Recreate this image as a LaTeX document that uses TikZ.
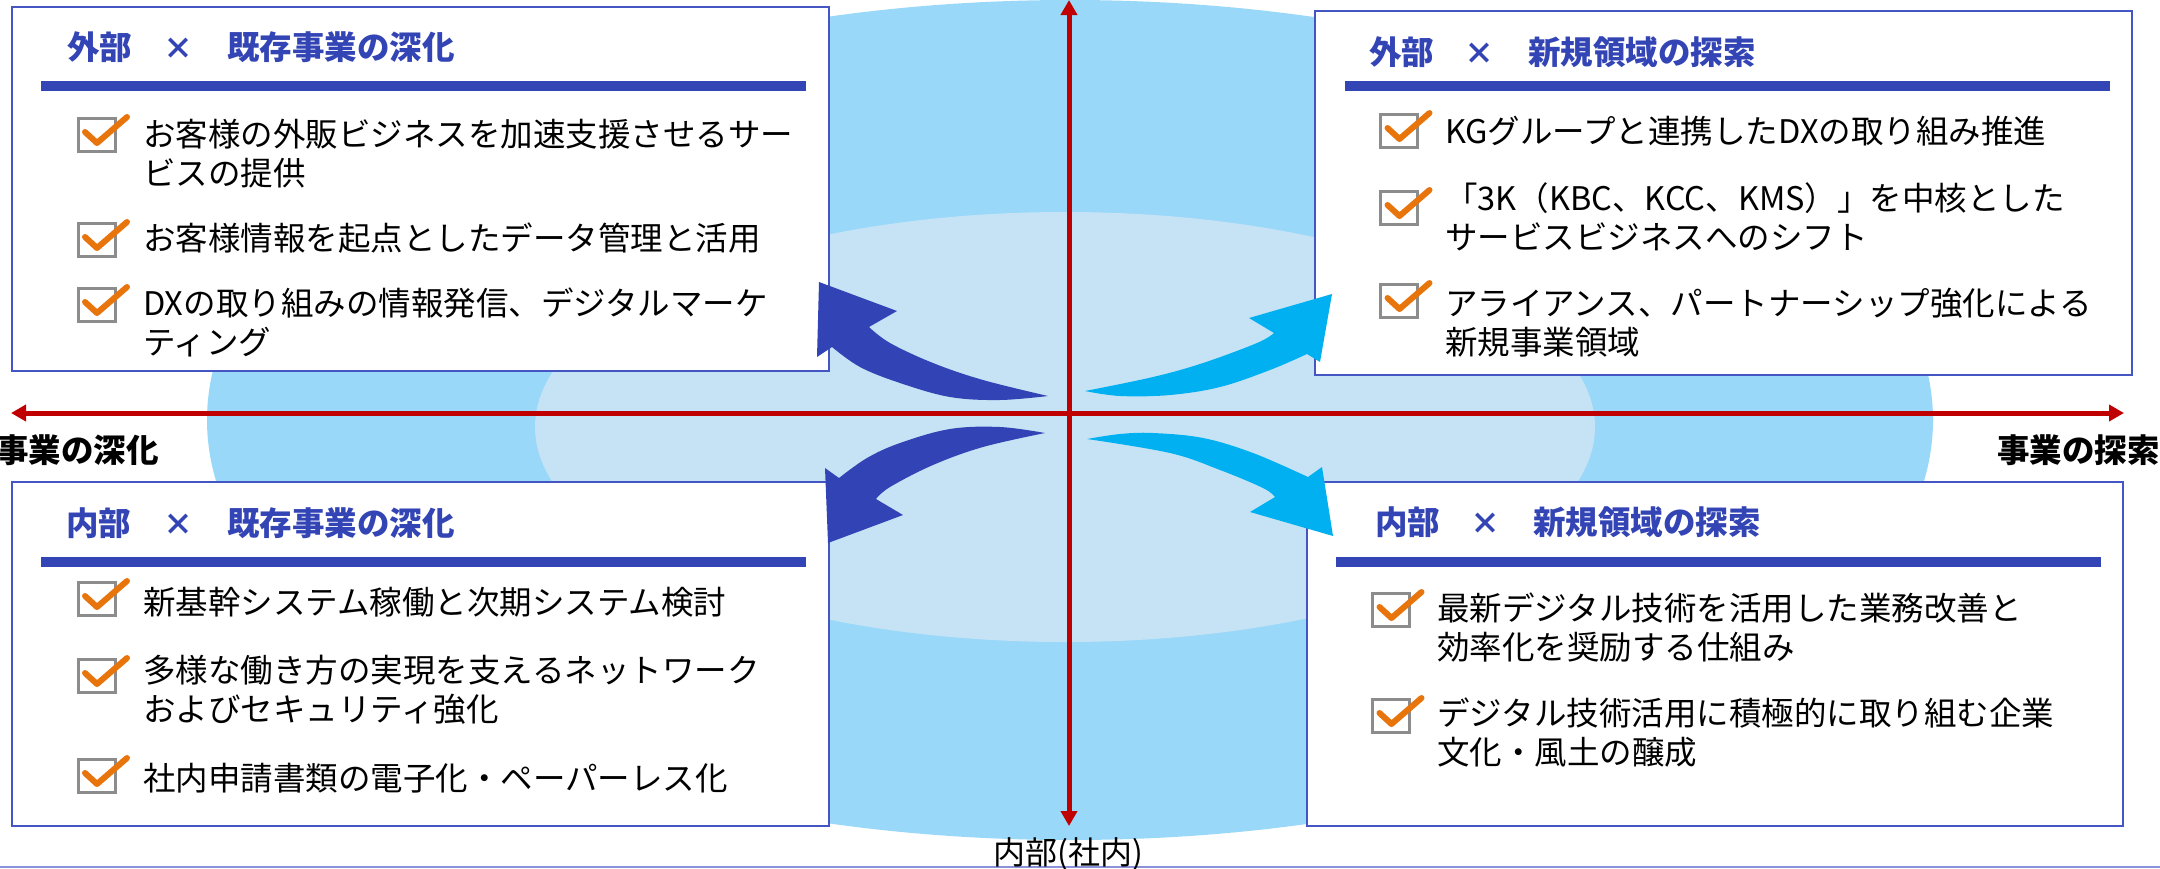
\documentclass[tikz,border=0pt]{standalone}
\usepackage{fontspec}
\setmainfont{Noto Sans CJK JP}
\usetikzlibrary{arrows.meta}
\definecolor{outerblue}{HTML}{99D8F9}
\definecolor{innerblue}{HTML}{C6E3F6}
\definecolor{axisred}{HTML}{C00000}
\definecolor{titleblue}{HTML}{3344B5}
\definecolor{boxblue}{HTML}{4455C4}
\definecolor{darkarrow}{HTML}{3244B5}
\definecolor{lightarrow}{HTML}{00B0F0}
\definecolor{chkorange}{HTML}{E8740C}
\definecolor{chkgray}{HTML}{8C8C8C}
\definecolor{frameline}{HTML}{8A93DA}
\tikzset{
  qbox/.style={draw=boxblue, line width=1.5pt, fill=white, inner sep=0pt},
  ttl/.style={anchor=base west, inner sep=0pt, text=titleblue, font=\fontsize{32.5}{39}\selectfont\bfseries},
  ttlx/.style={anchor=base, inner sep=0pt, text=titleblue, font=\fontsize{30}{39}\selectfont\bfseries},
  itm/.style={anchor=base west, inner sep=0pt, align=left, text width=720pt, font=\fontsize{32.5}{39.5}\selectfont},
  sidelbl/.style={anchor=base west, inner sep=0pt, font=\fontsize{32.5}{39}\selectfont\bfseries},
  botlbl/.style={anchor=base, inner sep=0pt, font=\fontsize{32}{39}\selectfont},
  redaxis/.style={axisred, line width=5pt, {Triangle[length=15pt,width=16pt]}-{Triangle[length=15pt,width=16pt]}},
  bar/.style={fill=titleblue},
  chkbox/.pic={
    \draw[chkgray, line width=3pt] (-18.5,-16.5) rectangle (18.5,16.5);
    \draw[chkorange, line width=6pt, line cap=round, line join=round] (-11.5,-3) -- (0.5,8) -- (30.5,-18);
  }
}
\begin{document}
\begin{tikzpicture}[x=1pt,y=-1pt]
\useasboundingbox (0,0) rectangle (2160,868);
% background
\fill[outerblue] (1070,420) ellipse [x radius=863pt, y radius=420pt];
\fill[innerblue] (1065,427) ellipse [x radius=530pt, y radius=215pt];
\draw[frameline, line width=2pt] (0,867) -- (2160,867);
% boxes
\node[qbox, minimum width=817pt, minimum height=364pt] (boxTL) at (420.5,189) {};
\node[qbox, minimum width=817pt, minimum height=364pt] (boxTR) at (1723.5,193) {};
\node[qbox, minimum width=817pt, minimum height=344pt] (boxBL) at (420.5,654) {};
\node[qbox, minimum width=816pt, minimum height=344pt] (boxBR) at (1715,654) {};
% bars
\fill[bar] (41,81) rectangle (806,91);
\fill[bar] (1345,81) rectangle (2110,91);
\fill[bar] (41,557) rectangle (806,567);
\fill[bar] (1336,557) rectangle (2101,567);
% titles
\node[ttl] (tTLa) at (67,59) {外部};
\node[ttlx] (tTLx) at (178,59) {×};
\node[ttl] (tTLb) at (227,59) {既存事業の深化};
\node[ttl] (tTRa) at (1369,64) {外部};
\node[ttlx] (tTRx) at (1479,64) {×};
\node[ttl] (tTRb) at (1528,64) {新規領域の探索};
\node[ttl] (tBLa) at (66,535) {内部};
\node[ttlx] (tBLx) at (178,535) {×};
\node[ttl] (tBLb) at (227,535) {既存事業の深化};
\node[ttl] (tBRa) at (1375,534) {内部};
\node[ttlx] (tBRx) at (1485,534) {×};
\node[ttl] (tBRb) at (1533,534) {新規領域の探索};
% items TL
\pic at (96.5,135) {chkbox};
\node[itm] (iTL1) at (143,146) {お客様の外販ビジネスを加速支援させるサー\\ビスの提供};
\pic at (96.5,240) {chkbox};
\node[itm] (iTL2) at (143,250) {お客様情報を起点としたデータ管理と活用};
\pic at (96.5,305) {chkbox};
\node[itm] (iTL3) at (143,315) {DXの取り組みの情報発信、デジタルマーケ\\ティング};
% items TR
\pic at (1399,131) {chkbox};
\node[itm] (iTR1) at (1445,143) {KGグループと連携したDXの取り組み推進};
\pic at (1399,208) {chkbox};
\node[itm] (iTR2) at (1445,210) {「3K（KBC、KCC、KMS）」を中核とした\\サービスビジネスへのシフト};
\pic at (1399,301) {chkbox};
\node[itm] (iTR3) at (1445,315) {アライアンス、パートナーシップ強化による\\新規事業領域};
% items BL
\pic at (96.5,599) {chkbox};
\node[itm] (iBL1) at (143,614) {新基幹システム稼働と次期システム検討};
\pic at (96.5,676) {chkbox};
\node[itm] (iBL2) at (143,682) {多様な働き方の実現を支えるネットワーク\\およびセキュリティ強化};
\pic at (96.5,776) {chkbox};
\node[itm] (iBL3) at (143,790) {社内申請書類の電子化・ペーパーレス化};
% items BR
\pic at (1391,610) {chkbox};
\node[itm] (iBR1) at (1437,620) {最新デジタル技術を活用した業務改善と\\効率化を奨励する仕組み};
\pic at (1391,716) {chkbox};
\node[itm] (iBR2) at (1437,725) {デジタル技術活用に積極的に取り組む企業\\文化・風土の醸成};
% axes
\coordinate (vtop) at (1069,0);
\coordinate (vbot) at (1069,826);
\coordinate (hleft) at (11,413);
\coordinate (hright) at (2124,413);
\draw[redaxis] (vtop) -- (vbot);
\draw[redaxis] (hleft) -- (hright);
% axis labels
\node[sidelbl] (lblL) at (-4,462) {事業の深化};
\node[sidelbl] (lblR) at (1997,462) {事業の探索};
\node[botlbl] (lblB) at (1068,864) {内部(社内)};
% curved arrows
\fill[darkarrow] plot[smooth, tension=0.6] coordinates {(1048,396) (1000,400) (950,397) (900,383) (860,367) (832,347)}
  -- (817,357) -- (819,282) -- (897,311) -- (869,327)
  -- plot[smooth, tension=0.6] coordinates {(869,327) (890,343) (933,363) (983,380) (1048,396)} -- cycle;
\fill[lightarrow] plot[smooth, tension=0.6] coordinates {(1085,391) (1120,396) (1170,395) (1220,387) (1270,370) (1307,354)}
  -- (1320,362) -- (1332,294) -- (1249,318) -- (1274,333)
  -- plot[smooth, tension=0.6] coordinates {(1274,333) (1257,343) (1203,363) (1153,377) (1085,391)} -- cycle;
\fill[darkarrow] plot[smooth, tension=0.6] coordinates {(1045,433) (1000,427) (950,429) (900,443) (867,458) (839,478)}
  -- (825,468) -- (828,543) -- (903,515) -- (876,499)
  -- plot[smooth, tension=0.6] coordinates {(876,499) (890,487) (933,465) (983,447) (1045,433)} -- cycle;
\fill[lightarrow] plot[smooth, tension=0.6] coordinates {(1087,439) (1120,434) (1153,433) (1203,438) (1253,453) (1308,477)}
  -- (1322,467) -- (1333,536) -- (1250,512) -- (1275,497)
  -- plot[smooth, tension=0.6] coordinates {(1275,497) (1263,488) (1220,470) (1170,453) (1087,439)} -- cycle;
\end{tikzpicture}
\end{document}
